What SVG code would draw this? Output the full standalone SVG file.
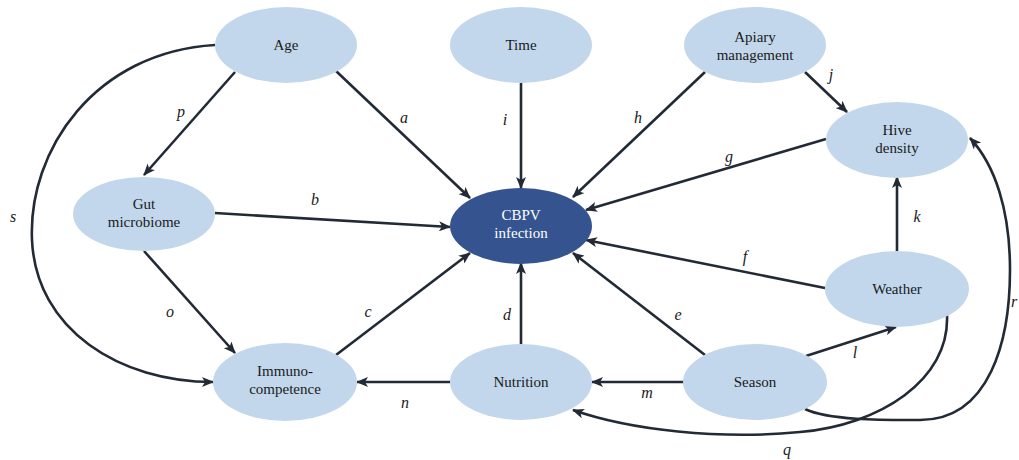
<svg xmlns="http://www.w3.org/2000/svg" width="1019" height="460" viewBox="0 0 1019 460">
<style>
.n{fill:#c2d7eb}
.main{fill:#35548f}
.t{font-family:"Liberation Serif",serif;font-size:15px;fill:#1a1a1a;text-anchor:middle}
.tw{font-family:"Liberation Serif",serif;font-size:15px;fill:#ffffff;text-anchor:middle}
.e{fill:none;stroke:#222a35;stroke-width:2.6;marker-end:url(#ah)}
.lb{font-family:"Liberation Serif",serif;font-style:italic;font-size:16px;fill:#1a1a1a;text-anchor:middle}
</style>
<defs>
<marker id="ah" viewBox="0 0 12 10" refX="11" refY="5" markerWidth="12" markerHeight="10" markerUnits="userSpaceOnUse" orient="auto">
<path d="M0,0 L12,5 L0,10 L3,5 Z" fill="#222a35"/>
</marker>
</defs>
<rect width="1019" height="460" fill="#ffffff"/>
<g id="connectors">
<path class="e" d="M336,71 L470,198"/>
<path class="e" d="M235,72 L144,175"/>
<path class="e" d="M215,213 L450,227"/>
<path class="e" d="M521,83 L521,188"/>
<path class="e" d="M705,72 L573,197"/>
<path class="e" d="M805,72 L847,112"/>
<path class="e" d="M826,139 L586,210"/>
<path class="e" d="M897,251 L897,177"/>
<path class="e" d="M825,288 L586,240"/>
<path class="e" d="M705,355 L573,253"/>
<path class="e" d="M521,345 L521,263"/>
<path class="e" d="M336,355 L470,253"/>
<path class="e" d="M144,251 L235,353"/>
<path class="e" d="M450,382 L357,382"/>
<path class="e" d="M684,382 L592,382"/>
<path class="e" d="M806,356 L896,327"/>
<path class="e" d="M215,45 C95,52 28,150 32,240 C36,330 120,382 213,382"/>
<path class="e" d="M947,315 C950,380 880,425 800,432 C720,440 630,430 573,410"/>
<path class="e" d="M805,409 C830,421 890,420 920,420 C990,420 1010,340 1010,270 C1010,210 995,165 970,138"/>
</g>
<g id="labels">
<text class="lb" x="404" y="123">a</text>
<text class="lb" x="315" y="205">b</text>
<text class="lb" x="368" y="317">c</text>
<text class="lb" x="507" y="320">d</text>
<text class="lb" x="678" y="320">e</text>
<text class="lb" x="745" y="262">f</text>
<text class="lb" x="729" y="162">g</text>
<text class="lb" x="638" y="123">h</text>
<text class="lb" x="505" y="125">i</text>
<text class="lb" x="831" y="80">j</text>
<text class="lb" x="917" y="222">k</text>
<text class="lb" x="855" y="358">l</text>
<text class="lb" x="647" y="398">m</text>
<text class="lb" x="405" y="408">n</text>
<text class="lb" x="170" y="317">o</text>
<text class="lb" x="181" y="117">p</text>
<text class="lb" x="787" y="455">q</text>
<text class="lb" x="1014" y="307">r</text>
<text class="lb" x="13" y="222">s</text>
</g>
<g id="age"><ellipse class="n" cx="286" cy="45" rx="71" ry="38"/><text class="t" x="286" y="50">Age</text></g>
<g id="time"><ellipse class="n" cx="521" cy="45" rx="71" ry="38"/><text class="t" x="521" y="50">Time</text></g>
<g id="apiary"><ellipse class="n" cx="755" cy="45" rx="71" ry="38"/><text class="t" x="755" y="42">Apiary</text><text class="t" x="755" y="60">management</text></g>
<g id="hive"><ellipse class="n" cx="897" cy="140" rx="71" ry="38"/><text class="t" x="897" y="135">Hive</text><text class="t" x="897" y="153">density</text></g>
<g id="gut"><ellipse class="n" cx="144" cy="214" rx="71" ry="37"/><text class="t" x="144" y="209">Gut</text><text class="t" x="144" y="227">microbiome</text></g>
<g id="cbpv"><ellipse class="main" cx="521" cy="226" rx="71" ry="38"/><text class="tw" x="521" y="220">CBPV</text><text class="tw" x="521" y="238">infection</text></g>
<g id="weather"><ellipse class="n" cx="897" cy="289" rx="72" ry="38"/><text class="t" x="897" y="294">Weather</text></g>
<g id="immuno"><ellipse class="n" cx="285" cy="382" rx="72" ry="39"/><text class="t" x="285" y="376">Immuno-</text><text class="t" x="285" y="394">competence</text></g>
<g id="nutrition"><ellipse class="n" cx="521" cy="382" rx="71" ry="38"/><text class="t" x="521" y="387">Nutrition</text></g>
<g id="season"><ellipse class="n" cx="755" cy="382" rx="72" ry="38"/><text class="t" x="755" y="387">Season</text></g>
</svg>
